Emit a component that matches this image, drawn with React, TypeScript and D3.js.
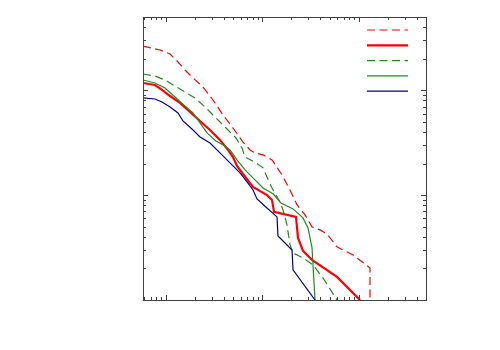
import React from 'react';
import * as d3 from 'd3';

// series (x, y pairs on log-log axes)
const redDashedX = [0.58, 0.871, 1.106, 1.339, 1.582, 1.915, 2.432, 3.087, 3.921, 4.978, 6.322, 7.47, 8.421, 10.19, 12.64, 16.05, 19.43, 22.96, 27.8, 32.86, 39.79, 47.0, 59.69, 87.5, 131.3, 131.3];
const redDashedY = [0.2644, 0.2422, 0.2218, 0.1861, 0.1562, 0.131, 0.1075, 0.0808, 0.0581, 0.0437, 0.0321, 0.027, 0.0253, 0.0242, 0.0217, 0.0156, 0.0112, 0.0081, 0.00648, 0.00498, 0.00466, 0.00427, 0.00321, 0.00269, 0.00202, 0.0009];

const redSolidX = [0.58, 0.773, 0.913, 1.106, 1.404, 1.782, 2.264, 2.874, 3.649, 4.418, 4.978, 5.478, 6.322, 8.029, 11.21, 12.64, 13.26, 22.42, 23.52, 26.5, 32.86, 59.69, 103.4];
const redSolidY = [0.1174, 0.1123, 0.1007, 0.0882, 0.0757, 0.0621, 0.051, 0.0418, 0.0336, 0.027, 0.0231, 0.019, 0.0159, 0.012, 0.01, 0.009, 0.00692, 0.0062, 0.00391, 0.00294, 0.00241, 0.00166, 0.001];

const greenDashedX = [0.58, 0.773, 0.981, 1.246, 1.582, 2.009, 2.551, 3.087, 3.649, 4.418, 5.349, 6.173, 6.632, 8.625, 10.19, 11.21, 12.64, 15.3, 16.44, 18.09, 19.43, 20.87, 26.5, 33.65, 42.73, 59.69];
const greenDashedY = [0.143, 0.1369, 0.1254, 0.1099, 0.0963, 0.0845, 0.0693, 0.0581, 0.0498, 0.0418, 0.0351, 0.0282, 0.0231, 0.0203, 0.0182, 0.0149, 0.0117, 0.0086, 0.00723, 0.0052, 0.00335, 0.00281, 0.00252, 0.00216, 0.00162, 0.001];

const greenSolidX = [0.58, 0.773, 0.981, 1.246, 1.582, 1.915, 2.264, 2.676, 3.317, 4.113, 4.634, 5.478, 6.632, 8.421, 10.19, 12.94, 15.67, 20.87, 26.5, 29.87, 32.86, 35.3];
const greenSolidY = [0.1254, 0.1174, 0.1052, 0.0863, 0.0709, 0.0608, 0.0488, 0.0392, 0.0329, 0.0294, 0.027, 0.0217, 0.0174, 0.014, 0.0117, 0.0103, 0.0084, 0.00739, 0.00607, 0.00487, 0.00314, 0.001];

const navyX = [0.58, 0.773, 0.913, 1.106, 1.339, 1.508, 1.915, 2.264, 2.874, 3.649, 4.634, 5.885, 6.956, 8.029, 8.831, 11.21, 14.24, 14.58, 20.38, 20.87, 35.3];
const navyY = [0.0845, 0.0826, 0.0774, 0.0693, 0.0608, 0.051, 0.0418, 0.0359, 0.0314, 0.0253, 0.0203, 0.0163, 0.0134, 0.0112, 0.0092, 0.00755, 0.0062, 0.00408, 0.003, 0.00194, 0.001];

const series = [
  { xs: redDashedX, ys: redDashedY, color: '#ff0000', width: 1.2, dash: '8,4.5' },
  { xs: redSolidX, ys: redSolidY, color: '#ff0000', width: 2.2, dash: null },
  { xs: greenDashedX, ys: greenDashedY, color: '#228b22', width: 1.2, dash: '8,4.5' },
  { xs: greenSolidX, ys: greenSolidY, color: '#228b22', width: 1.2, dash: null },
  { xs: navyX, ys: navyY, color: '#000080', width: 1.2, dash: null },
];

const W = 500;
const H = 350;
const left = 143;
const right = 426;
const top = 17;
const bottom = 300;

export default function App() {
  const x = d3.scaleLog().domain([0.58, 500]).range([left, right]);
  const y = d3.scaleLog().domain([0.001, 0.5]).range([bottom, top]);

  const line = d3.line<[number, number]>()
    .x((d) => x(d[0]))
    .y((d) => y(d[1]));

  const isMajor = (v: number) => Math.abs(Math.log10(v) - Math.round(Math.log10(v))) < 1e-6;

  const xTicks = x.ticks();
  const yTicks = y.ticks();
  const axisColor = '#404040';

  return (
    <svg width={W} height={H} style={{ position: 'absolute', left: 0, top: 0 }}>
      <defs>
        <clipPath id="plot-clip">
          <rect x={left} y={top} width={right - left} height={bottom - top} />
        </clipPath>
      </defs>
      <rect x={0} y={0} width={W} height={H} fill="#fff" />

      <g clipPath="url(#plot-clip)">
        {series.map((s, i) => (
          <path
            key={i}
            d={line(s.xs.map((v, j) => [v, s.ys[j]] as [number, number])) || ''}
            fill="none"
            stroke={s.color}
            strokeWidth={s.width}
            strokeDasharray={s.dash || undefined}
          />
        ))}
      </g>

      {/* ticks, inward on all four sides */}
      <g stroke={axisColor} strokeWidth={1}>
        {xTicks.map((t, i) => {
          const len = isMajor(t) ? 5 : 3;
          const px = Math.round(x(t)) + 0.5;
          return (
            <g key={'x' + i}>
              <line x1={px} x2={px} y1={bottom} y2={bottom - len} />
              <line x1={px} x2={px} y1={top} y2={top + len} />
            </g>
          );
        })}
        {yTicks.map((t, i) => {
          const len = isMajor(t) ? 5 : 3;
          const py = Math.round(y(t)) + 0.5;
          return (
            <g key={'y' + i}>
              <line x1={left} x2={left + len} y1={py} y2={py} />
              <line x1={right} x2={right - len} y1={py} y2={py} />
            </g>
          );
        })}
      </g>

      <rect
        x={left + 0.5}
        y={top + 0.5}
        width={right - left}
        height={bottom - top}
        fill="none"
        stroke={axisColor}
        strokeWidth={1}
      />

      {/* legend, no labels */}
      <g>
        {series.map((s, i) => (
          <line
            key={'lg' + i}
            x1={367}
            x2={408}
            y1={30 + i * 15.3}
            y2={30 + i * 15.3}
            stroke={s.color}
            strokeWidth={s.width}
            strokeDasharray={s.dash || undefined}
          />
        ))}
      </g>
    </svg>
  );
}
